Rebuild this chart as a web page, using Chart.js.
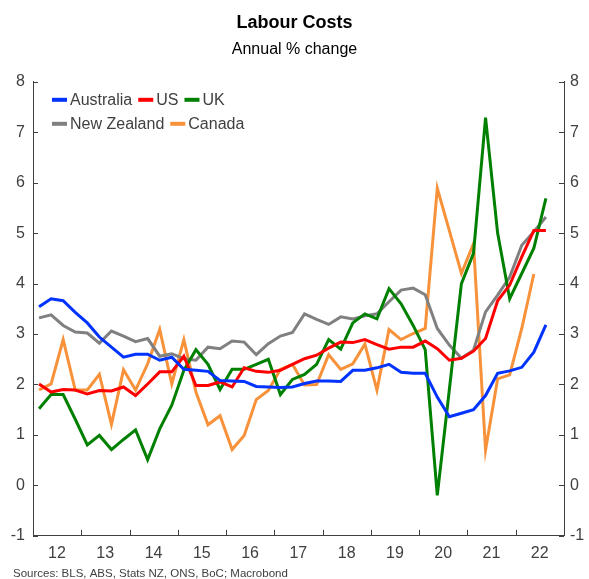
<!DOCTYPE html>
<html>
<head>
<meta charset="utf-8">
<script src="https://cdn.jsdelivr.net/npm/chart.js@4"></script>
<style>
  html, body { margin: 0; padding: 0; background: #fff; }
  #wrap { width: 589px; height: 579px; }
</style>
</head>
<body>
<div id="wrap"><canvas id="laborChart" width="589" height="579"></canvas></div>
<script>
    // quarterly data, 2012Q1 onwards (annual % change)
    const firstYear = 2012;
    const yearLabels = ['12', '13', '14', '15', '16', '17', '18', '19', '20', '21', '22'];
    const seriesNames = ['Australia', 'US', 'UK', 'New Zealand', 'Canada'];
    const seriesColors = ['#0033ff', '#ff0000', '#008000', '#808080', '#f7923a'];

    const australia = [3.54, 3.70, 3.66, 3.43, 3.22, 2.94, 2.74, 2.54, 2.60, 2.60, 2.48, 2.54,
        2.30, 2.28, 2.26, 2.08, 2.07, 2.06, 1.96, 1.95, 1.94, 1.95, 2.02, 2.07, 2.07, 2.06,
        2.28, 2.28, 2.33, 2.40, 2.24, 2.22, 2.22, 1.75, 1.36, 1.43, 1.50, 1.78, 2.22, 2.27,
        2.34, 2.64, 3.18];
    const us = [2.01, 1.85, 1.90, 1.89, 1.81, 1.88, 1.87, 1.95, 1.78, 2.01, 2.25, 2.25,
        2.56, 1.98, 1.98, 2.05, 1.95, 2.33, 2.26, 2.24, 2.28, 2.40, 2.51, 2.58, 2.72, 2.84,
        2.83, 2.89, 2.79, 2.70, 2.74, 2.74, 2.86, 2.71, 2.48, 2.52, 2.66, 2.91, 3.66, 3.97,
        4.53, 5.05, 5.05];
    const uk = [1.52, 1.80, 1.80, 1.31, 0.80, 0.99, 0.71, 0.91, 1.10, 0.51, 1.12, 1.59,
        2.28, 2.69, 2.40, 1.90, 2.30, 2.30, 2.40, 2.50, 1.80, 2.10, 2.20, 2.40, 2.89, 2.70,
        3.22, 3.40, 3.30, 3.90, 3.60, 3.17, 2.69, -0.20, 1.90, 4.00, 4.60, 7.29, 5.00, 3.70,
        4.20, 4.70, 5.69];
    const newZealand = [3.32, 3.38, 3.17, 3.04, 3.02, 2.82, 3.06, 2.96, 2.85, 2.91, 2.56, 2.61,
        2.51, 2.48, 2.74, 2.71, 2.86, 2.84, 2.59, 2.81, 2.96, 3.03, 3.40, 3.29, 3.19, 3.34,
        3.30, 3.36, 3.40, 3.64, 3.87, 3.91, 3.78, 3.11, 2.78, 2.52, 2.68, 3.44, 3.77, 4.13,
        4.76, 5.03, 5.32];
    const canada = [1.89, 2.01, 2.89, 1.89, 1.89, 2.20, 1.21, 2.29, 1.89, 2.41, 3.09, 2.01,
        2.89, 1.85, 1.20, 1.38, 0.71, 0.99, 1.70, 1.88, 2.30, 2.40, 1.99, 2.00, 2.59, 2.30,
        2.41, 2.80, 1.89, 3.09, 2.89, 3.01, 3.11, 5.89, 5.05, 4.20, 4.79, 0.70, 2.11, 2.19,
        3.11, 4.19];

    const allSeries = [australia, us, uk, newZealand, canada];
    const axisColor = '#404040';
    const fontFamily = "'Liberation Sans', Arial, sans-serif";

    // each quarter sits in the middle of its slot on a year axis
    function toPoints(values) {
        return values.map((v, i) => ({ x: firstYear + (i + 0.5) / 4, y: v }));
    }

    // legend drawn inside the plot, two rows like the original
    const insideLegend = {
        id: 'insideLegend',
        afterDraw(chart) {
            const ctx = chart.ctx;
            const area = chart.chartArea;
            const rows = [[0, 1, 2], [3, 4]];
            ctx.save();
            ctx.font = '16px ' + fontFamily;
            ctx.textBaseline = 'middle';
            rows.forEach((row, r) => {
                let x = area.left + 19;
                const y = area.top + 18 + r * 24;
                row.forEach(idx => {
                    ctx.strokeStyle = seriesColors[idx];
                    ctx.lineWidth = 4;
                    ctx.beginPath();
                    ctx.moveTo(x, y);
                    ctx.lineTo(x + 15, y);
                    ctx.stroke();
                    ctx.fillStyle = axisColor;
                    ctx.fillText(seriesNames[idx], x + 18, y + 1);
                    x += 18 + ctx.measureText(seriesNames[idx]).width + 6;
                });
            });
            ctx.restore();
        }
    };

    // short tick marks pointing into the plot + source line
    const innerTicks = {
        id: 'innerTicks',
        afterDraw(chart) {
            const ctx = chart.ctx;
            const area = chart.chartArea;
            const yScale = chart.scales.y;
            const xScale = chart.scales.x;
            ctx.save();
            ctx.strokeStyle = axisColor;
            ctx.lineWidth = 1;
            ctx.beginPath();
            yScale.ticks.forEach(t => {
                const py = Math.round(yScale.getPixelForValue(t.value)) + 0.5;
                ctx.moveTo(area.left, py);
                ctx.lineTo(area.left + 5, py);
                ctx.moveTo(area.right, py);
                ctx.lineTo(area.right - 5, py);
            });
            xScale.ticks.forEach(t => {
                const px = Math.round(xScale.getPixelForValue(t.value)) + 0.5;
                ctx.moveTo(px, area.bottom);
                ctx.lineTo(px, area.bottom - 6);
            });
            ctx.stroke();

            ctx.fillStyle = axisColor;
            ctx.font = '11.5px ' + fontFamily;
            ctx.textBaseline = 'middle';
            ctx.fillText('Sources: BLS, ABS, Stats NZ, ONS, BoC; Macrobond', 13, 574);
            ctx.restore();
        }
    };

    const ctx = document.getElementById('laborChart').getContext('2d');
    new Chart(ctx, {
        type: 'line',
        data: {
            datasets: allSeries.map((values, i) => ({
                label: seriesNames[i],
                data: toPoints(values),
                borderColor: seriesColors[i],
                backgroundColor: seriesColors[i],
                borderWidth: 3,
                pointRadius: 0,
                tension: 0,
                fill: false
            }))
        },
        options: {
            responsive: false,
            animation: false,
            layout: { padding: { left: 0, right: 0, top: 0, bottom: 8 } },
            plugins: {
                legend: { display: false },
                tooltip: { enabled: false },
                title: {
                    display: true,
                    text: 'Labour Costs',
                    color: '#000',
                    font: { family: fontFamily, size: 18, weight: 'bold' },
                    padding: { top: 12, bottom: 0 }
                },
                subtitle: {
                    display: true,
                    text: 'Annual % change',
                    color: '#000',
                    font: { family: fontFamily, size: 16 },
                    padding: { top: 6, bottom: 23 }
                }
            },
            scales: {
                x: {
                    type: 'linear',
                    min: firstYear,
                    max: firstYear + yearLabels.length,
                    afterBuildTicks(scale) {
                        const ticks = [];
                        for (let i = 0; i <= yearLabels.length; i++) ticks.push({ value: firstYear + i });
                        scale.ticks = ticks;
                    },
                    ticks: {
                        autoSkip: false,
                        maxRotation: 0,
                        padding: 8,
                        labelOffset: 24,
                        color: axisColor,
                        font: { family: fontFamily, size: 16 },
                        callback: (value) => yearLabels[value - firstYear] || ''
                    },
                    grid: { drawOnChartArea: false, drawTicks: false },
                    border: { color: axisColor, width: 1 }
                },
                y: {
                    position: 'left',
                    min: -1,
                    max: 8,
                    afterFit(scale) { scale.width = 33; },
                    ticks: {
                        stepSize: 1,
                        padding: 8,
                        color: axisColor,
                        font: { family: fontFamily, size: 16 }
                    },
                    grid: { drawOnChartArea: false, drawTicks: false },
                    border: { color: axisColor, width: 1 }
                },
                y2: {
                    position: 'right',
                    min: -1,
                    max: 8,
                    afterFit(scale) { scale.width = 25; },
                    ticks: {
                        stepSize: 1,
                        padding: 6,
                        color: axisColor,
                        font: { family: fontFamily, size: 16 }
                    },
                    grid: { drawOnChartArea: false, drawTicks: false },
                    border: { color: axisColor, width: 1 }
                }
            }
        },
        plugins: [insideLegend, innerTicks]
    });
</script>
</body>
</html>
